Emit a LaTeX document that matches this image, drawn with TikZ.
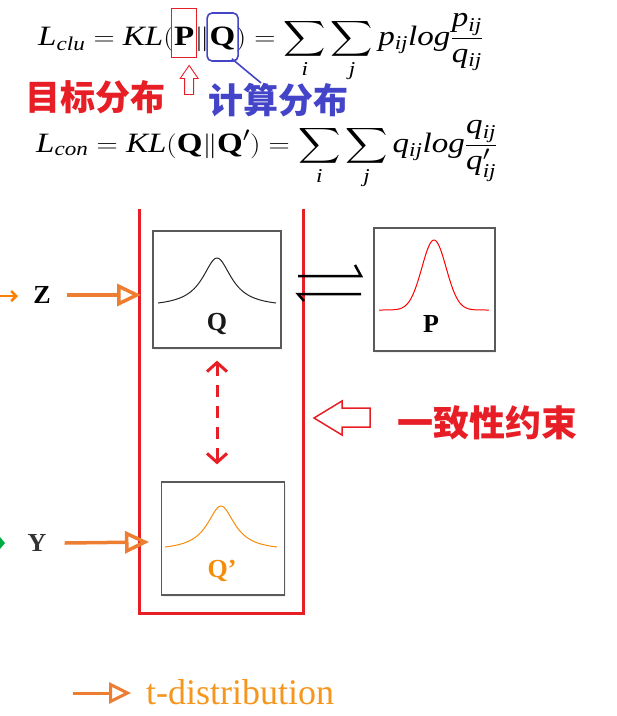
\documentclass[tikz,border=0pt]{standalone}
\usepackage{amsmath}
\usepackage{exscale}
\usepackage{graphicx}
\usepackage{fontspec}
\setmainfont{Liberation Serif}
\DeclareSymbolFont{letters}{TU}{\rmdefault}{m}{it}
\newfontfamily\cjk{Noto Sans CJK SC}
\usetikzlibrary{arrows.meta,shadows}
\definecolor{myred}{RGB}{232,30,38}
\definecolor{myorange}{RGB}{237,125,49}
\definecolor{qorange}{RGB}{245,140,10}
\definecolor{torange}{RGB}{245,150,30}
\definecolor{myblue}{RGB}{68,68,200}
\definecolor{boxgray}{RGB}{90,90,90}
\definecolor{mygreen}{RGB}{0,170,70}
\newcommand{\wide}[1]{\scalebox{1.18}[1]{#1}}
\tikzset{
  distbox/.style={draw=boxgray, line width=1.2pt, fill=white, inner sep=0pt,
    drop shadow={opacity=0.12, shadow xshift=1pt, shadow yshift=-2pt}},
  bigletter/.style={font=\fontsize{26}{30}\selectfont\bfseries, inner sep=0pt},
  cjklabel/.style={font=\cjk\bfseries\fontsize{35}{40}\selectfont, inner sep=0pt},
  tarrow/.style={draw=myorange, line width=3.5pt,
    -{Triangle[open, length=24pt, width=22pt]}},
  eqn/.style={anchor=base west, inner sep=0pt, font=\fontsize{28}{32}\selectfont},
  harp/.style={draw=black, line width=2.5pt},
}
\begin{document}
\begin{tikzpicture}[x=1pt, y=-1pt]
\useasboundingbox (0,0) rectangle (617,716);

% equation 1 (split so that P and Q can be marked)
\node[eqn] (e1a) at (38,45) {\wide{$L_{clu}=KL($}};
\node[eqn] (e1P) at (e1a.base east) {\wide{$\mathbf{P}$}};
\node[eqn] (e1bar) at (e1P.base east) {\wide{$\|$}};
\node[eqn] (e1Q) at (e1bar.base east) {\wide{$\mathbf{Q}$}};
\node[eqn] (e1rest) at (e1Q.base east)
  {\wide{$\displaystyle)=\sum_i\sum_j p_{ij}log\frac{p_{ij}}{q_{ij}}$}};
% equation 2
\node[eqn] (eq2) at (36,152)
  {\wide{$\displaystyle L_{con}=KL(\mathbf{Q}\|\mathbf{Q}')=\sum_i\sum_j q_{ij}log\frac{q_{ij}}{q'_{ij}}$}};

% highlights
\node[draw=myred, line width=0.9pt, minimum width=25pt, minimum height=49pt, inner sep=0pt] (Phl) at ([yshift=12.5pt]e1P.base) {};
\node[draw=myblue, line width=1.6pt, rounded corners=5pt, minimum width=31pt, minimum height=48pt, inner sep=0pt] (Qhl) at ([yshift=8pt]e1Q.base) {};
\node[cjklabel, text=myred] (mubiao) at (96,97) {目标分布};
\node[cjklabel, text=myblue] (jisuan) at (278,100) {计算分布};
\draw[myblue, line width=1.6pt] ([xshift=-7pt,yshift=3pt]Qhl.south east) -- ([xshift=-17pt]jisuan.north);
\begin{scope}[shift={([xshift=5pt]Phl.south)}]
\draw[myred, line width=0.9pt] (0,8) -- (9,21) -- (4.5,21) -- (4.5,37) -- (-4.5,37) -- (-4.5,21) -- (-9,21) -- cycle;
\end{scope}

% red frame
\draw[myred, line width=3pt] (139,209) -- (139,613) -- (303,613) -- (303,209);

% boxes
\node[distbox, minimum width=128pt, minimum height=117pt] (Qbox) at (217,289.5) {};
\node[distbox, minimum width=121pt, minimum height=123pt] (Pbox) at (434.5,289.5) {};
\node[distbox, minimum width=123pt, minimum height=113pt] (Qpbox) at (223,538.5) {};

\begin{scope}[shift={(Qbox.center)}]
  \draw[black!85, line width=1pt] plot[domain=-1:1, samples=80, smooth]
    ({59*\x}, {13.5 - 45*(1/(1+(\x/0.3)^2) - 0.0826)/0.9174});
\end{scope}
\begin{scope}[shift={(Pbox.center)}]
  \draw[red, line width=1pt] plot[domain=-1:1, samples=80, smooth]
    ({-0.5+55*\x}, {20.5 - 70*exp(-(\x/0.22)^2/2)});
\end{scope}
\begin{scope}[shift={(Qpbox.center)}]
  \draw[qorange, line width=1pt] plot[domain=-1:1, samples=80, smooth]
    ({-2+56*\x}, {8.5 - 41*(1/(1+(\x/0.3)^2) - 0.0826)/0.9174});
\end{scope}

\node[bigletter, text=black!90] (Qlab) at (217,324) {Q};
\node[bigletter, text=black] (Plab) at (431,324) {P};
\node[bigletter, text=qorange] (Qplab) at (222,571) {Q’};

% inputs
\node[bigletter] (Z) at (42,295) {Z};
\coordinate (zin) at (141,295);
\draw[tarrow] ([xshift=16pt]Z.east) -- (zin);
\draw[draw=orange, line width=2.5pt, -{Straight Barb[length=5pt, width=10pt]}] (0,296) -- (18,296);

\node[bigletter, text=black!80] (Y) at (37,543) {Y};
\coordinate (yin) at (149,542);
\draw[tarrow] ([xshift=18pt]Y.east) -- (yin);
\fill[mygreen] (-5,543) -- (0,537) -- (5,543) -- (0,549) -- cycle;

% harpoons
\coordinate (h1a) at (298,276); \coordinate (h1b) at (361,276);
\coordinate (h2a) at (298,294); \coordinate (h2b) at (361,294);
\draw[harp] (h1a) -- (h1b) -- ++(-6,-11);
\draw[harp] (h2b) -- (h2a) -- ++(6,7);

% consistency
\draw[myred, line width=3pt, dash pattern=on 12pt off 9pt,
  {Straight Barb[length=9pt, width=20pt]}-{Straight Barb[length=9pt, width=20pt]}]
  ([yshift=-12pt]Qbox.south) -- ([yshift=17pt]Qbox.south |- Qpbox.north);
\node[font=\cjk\bfseries\fontsize{36}{40}\selectfont, text=myred, inner sep=0pt] (yizhi) at (487,423) {一致性约束};
\draw[myred, line width=1.5pt] (314,418) -- (342,401) -- (342,408) -- (370,408) -- (370,427) -- (342,427) -- (342,435) -- cycle;

% legend
\node[anchor=base west, inner sep=0pt, font=\fontsize{36}{40}\selectfont, text=torange] (tdist) at (146,704) {t-distribution};
\draw[draw=myorange, line width=3pt, -{Triangle[open, length=22pt, width=21pt]}] ([xshift=-73pt,yshift=11pt]tdist.base west) -- ([xshift=-15pt,yshift=11pt]tdist.base west);
\end{tikzpicture}
\end{document}
